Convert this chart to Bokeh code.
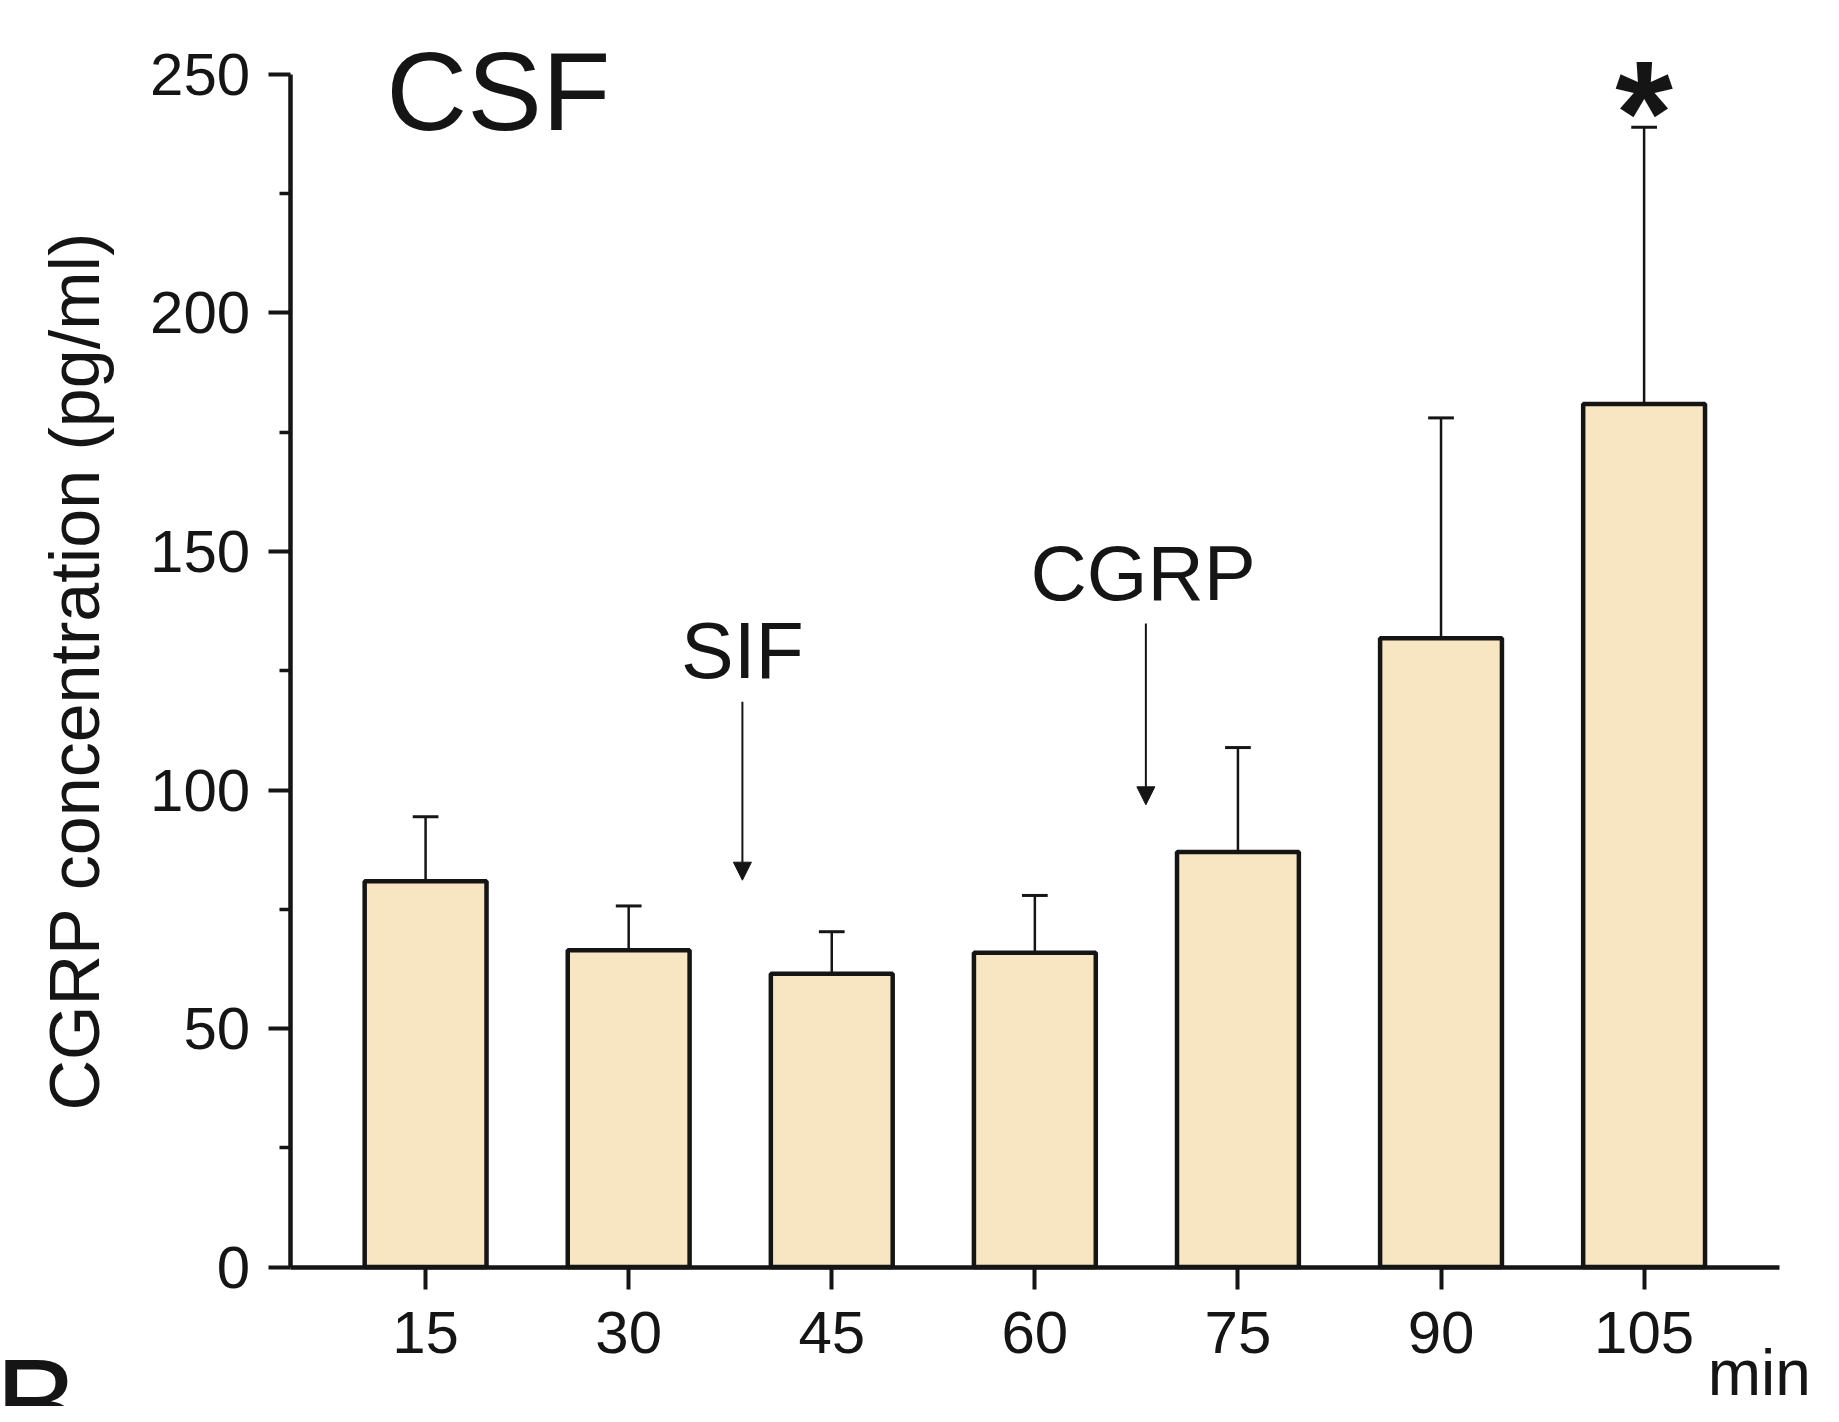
from bokeh.plotting import figure
from bokeh.models import Range1d, FixedTicker, Label, Arrow, NormalHead
from bokeh.embed import file_html
from bokeh.resources import INLINE

# ---- data ----
minutes = [15, 30, 45, 60, 75, 90, 105]
mean_cgrp = [80.9, 66.4, 61.5, 65.9, 87.0, 131.8, 180.9]
upper_err = [94.4, 75.7, 70.3, 77.9, 108.9, 178.0, 238.9]
y_ticks = [0, 50, 100, 150, 200, 250]
y_minor_ticks = [25, 75, 125, 175, 225]
x_ticks = [15, 30, 45, 60, 75, 90, 105]
x_bounds = (5, 115)
y_bounds = (0, 250)

FONT = "Liberation Sans"
INK = "#151515"
BAR_FILL = "#F8E6C2"

# ---- layout: where the axes sit on the canvas (pixels) ----
W, H = 1823, 1406
X_LEFT_PX, X_RIGHT_PX = 289.7, 1779.0      # x = 5 and x = 115
Y_TOP_PX, Y_BOTTOM_PX = 73.9, 1266.6       # y = 250 and y = 0
sx = (X_RIGHT_PX - X_LEFT_PX) / (x_bounds[1] - x_bounds[0])
sy = (Y_BOTTOM_PX - Y_TOP_PX) / (y_bounds[1] - y_bounds[0])
x_start = x_bounds[0] - X_LEFT_PX / sx
x_end = x_bounds[0] + (W - X_LEFT_PX) / sx
y_end = Y_BOTTOM_PX / sy
y_start = -(H - Y_BOTTOM_PX) / sy

p = figure(width=W, height=H, output_backend="svg", toolbar_location=None,
           x_range=Range1d(x_start, x_end), y_range=Range1d(y_start, y_end),
           min_border=0)
p.outline_line_color = None
p.xgrid.visible = False
p.ygrid.visible = False
p.background_fill_color = "white"
p.border_fill_color = "white"

# error bars (upper only)
cap_half = 0.95
p.segment(x0=minutes, y0=mean_cgrp, x1=minutes, y1=upper_err,
          line_color=INK, line_width=2.5)
p.segment(x0=[m - cap_half for m in minutes], y0=upper_err,
          x1=[m + cap_half for m in minutes], y1=upper_err,
          line_color=INK, line_width=3)

# bars
p.vbar(x=minutes, width=9, top=mean_cgrp, bottom=0,
       fill_color=BAR_FILL, line_color=INK, line_width=4.5)

# axes
for ax in (p.xaxis[0], p.yaxis[0]):
    ax.axis_line_width = 4.5
    ax.axis_line_color = INK
    ax.major_tick_line_width = 4
    ax.major_tick_line_color = INK
    ax.major_tick_out = 22
    ax.major_tick_in = 0
    ax.major_label_text_font = FONT
    ax.major_label_text_font_size = "60px"
    ax.major_label_text_color = INK

p.xaxis.ticker = FixedTicker(ticks=x_ticks)
p.xaxis.minor_tick_line_color = None
p.xaxis.major_label_standoff = 23
p.xaxis.fixed_location = y_bounds[0]
p.xaxis.bounds = x_bounds

p.yaxis.ticker = FixedTicker(ticks=y_ticks, minor_ticks=y_minor_ticks)
p.yaxis.minor_tick_out = 11
p.yaxis.minor_tick_in = 0
p.yaxis.minor_tick_line_width = 3.5
p.yaxis.minor_tick_line_color = INK
p.yaxis.major_label_standoff = 18
p.yaxis.axis_label = "CGRP concentration (pg/ml)"
p.yaxis.axis_label_text_font = FONT
p.yaxis.axis_label_text_font_size = "70px"
p.yaxis.axis_label_text_font_style = "normal"
p.yaxis.axis_label_text_color = INK
p.yaxis.axis_label_standoff = 33
p.yaxis.fixed_location = x_bounds[0]
p.yaxis.bounds = y_bounds

def lab(x, y, text, size, align="left", style="normal"):
    p.add_layout(Label(x=x, y=y, text=text, text_font=FONT, text_font_size=size,
                       text_align=align, text_baseline="alphabetic",
                       text_color=INK, text_font_style=style))

lab(12.1, 246.4, "CSF", "112px")
lab(38.4, 129.2, "SIF", "79px", "center")
lab(68.0, 145.4, "CGRP", "78px", "center")
lab(105.0, 242.1, "*", "148px", "center", "bold")
lab(109.7, -22.2, "min", "64px")
lab(-16.8, -28.5, "B", "126px")

for xs, y0, y1 in [(38.4, 118.5, 81.1), (68.2, 134.9, 96.9)]:
    p.add_layout(Arrow(x_start=xs, y_start=y0, x_end=xs, y_end=y1,
                       line_color=INK, line_width=2,
                       end=NormalHead(size=18, fill_color=INK, line_color=INK, line_width=1)))

open("out.html", "w").write(file_html(p, INLINE))
